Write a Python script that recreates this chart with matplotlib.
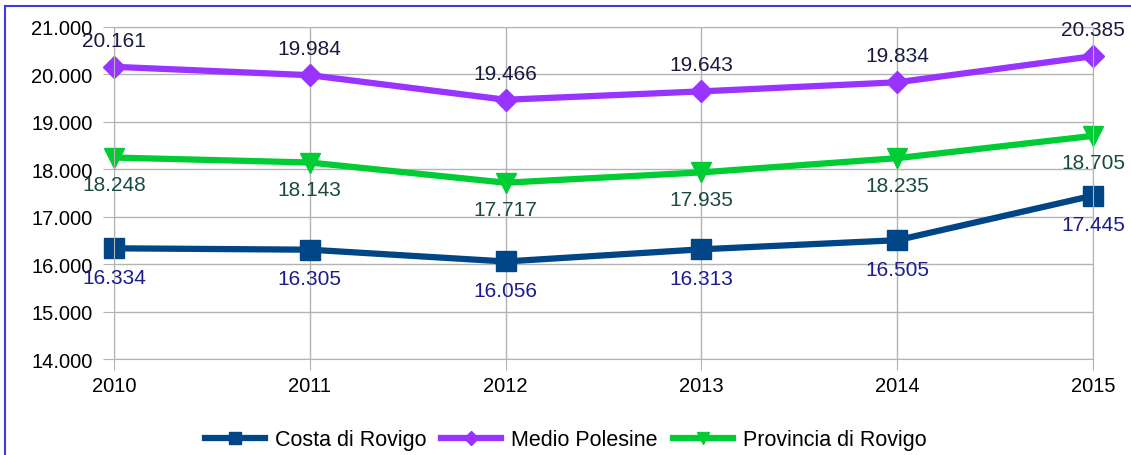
import matplotlib.pyplot as plt
from matplotlib.patches import Rectangle
from matplotlib.ticker import FuncFormatter

plt.rcParams['font.family'] = ['Liberation Sans', 'DejaVu Sans']

anni = [2010, 2011, 2012, 2013, 2014, 2015]
costa = [16334, 16305, 16056, 16313, 16505, 17445]
medio = [20161, 19984, 19466, 19643, 19834, 20385]
provincia = [18248, 18143, 17717, 17935, 18235, 18705]

fig = plt.figure(figsize=(11.31, 4.56), dpi=100)
ax = fig.add_axes([0.1008, 0.2105, 0.8656, 0.7281])

grid_col = '#b3b3b3'
fs = 15

l1, = ax.plot(anni, costa, color='#004586', lw=4.5, marker='s', ms=14,
              label='Costa di Rovigo', clip_on=False)
l2, = ax.plot(anni, medio, color='#9933ff', lw=4.5, marker='D', ms=11.5,
              label='Medio Polesine', clip_on=False)
l3, = ax.plot(anni, provincia, color='#00cc33', lw=4.5, marker='v', ms=15,
              label='Provincia di Rovigo', clip_on=False)

def fmt(v):
    return '{:,}'.format(int(v)).replace(',', '.')

# etichette dati
for x, y in zip(anni, medio):
    ax.annotate(fmt(y), (x, y), xytext=(0, 19), textcoords='offset points',
                ha='center', va='center', fontsize=fs, color='#1a1a40')
for x, y in zip(anni, provincia):
    ax.annotate(fmt(y), (x, y), xytext=(0, -19.5), textcoords='offset points',
                ha='center', va='center', fontsize=fs, color='#1a4a40')
for x, y in zip(anni, costa):
    ax.annotate(fmt(y), (x, y), xytext=(0, -21), textcoords='offset points',
                ha='center', va='center', fontsize=fs, color='#1c1c8c')

ax.set_xlim(2010, 2015)
ax.set_ylim(14000, 21000)
ax.set_xticks(anni)
ax.set_yticks(range(14000, 21001, 1000))
ax.yaxis.set_major_formatter(FuncFormatter(lambda v, p: fmt(v)))
ax.grid(True, color=grid_col, lw=1)
ax.set_axisbelow(True)
for s in ax.spines.values():
    s.set_color(grid_col)
ax.tick_params(axis='both', direction='out', length=8, color=grid_col, labelsize=14.5)
ax.tick_params(axis='y', pad=7.5)
ax.tick_params(axis='x', pad=4.5)

fig.legend(handles=[l1, l2, l3], loc='center', bbox_to_anchor=(0.5, 1 - 441 / 456),
           ncol=3, frameon=False, fontsize=15.5, handlelength=2.8, handletextpad=0.45,
           columnspacing=0.7, markerscale=0.6)

# cornice blu
fig.patches.append(Rectangle((5 / 1131, -0.1), 1.2, 1 - 7 / 456 + 0.1, transform=fig.transFigure,
                             fill=False, edgecolor='#3a3adf', lw=1.5))

fig.savefig('out.png', dpi=100)
